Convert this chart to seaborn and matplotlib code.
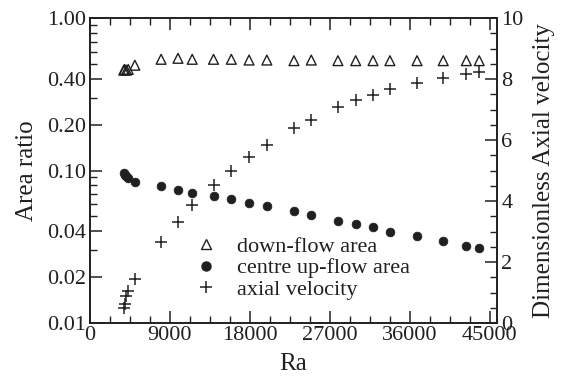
import matplotlib
matplotlib.use("Agg")
import matplotlib.pyplot as plt
from matplotlib.ticker import FixedLocator, FormatStrFormatter, MultipleLocator, LogLocator, NullFormatter
from matplotlib.lines import Line2D
import seaborn as sns
import pandas as pd

ra = [3800, 3900, 4100, 4300, 5050, 8000, 9900, 11500, 13900, 15900, 17900,
      19900, 22950, 24900, 27900, 29900, 31850, 33750, 36800, 39750, 42350, 43800]
down_flow_area = [0.455, 0.46, 0.455, 0.46, 0.49, 0.536, 0.544, 0.536, 0.536, 0.536,
                  0.530, 0.530, 0.525, 0.530, 0.525, 0.525, 0.525, 0.525, 0.525,
                  0.525, 0.525, 0.525]
centre_upflow_area = [0.097, 0.094, 0.092, 0.089, 0.0845, 0.0795, 0.0745, 0.0715,
                      0.0683, 0.0647, 0.0615, 0.0585, 0.0542, 0.0511, 0.0469, 0.0446,
                      0.0424, 0.0393, 0.0374, 0.0345, 0.0320, 0.0309]
axial_velocity = [0.50, 0.63, 0.88, 1.05, 1.43, 2.66, 3.32, 3.88, 4.52, 4.99, 5.43,
                  5.84, 6.38, 6.67, 7.09, 7.31, 7.48, 7.66, 7.88, 8.02, 8.16, 8.24]

left_ticks = [0.01, 0.02, 0.04, 0.10, 0.20, 0.40, 1.00]
x_ticks = [0, 9000, 18000, 27000, 36000, 45000]
right_ticks = [0, 2, 4, 6, 8, 10]
labels = ["down-flow area", "centre up-flow area", "axial velocity"]

df = pd.DataFrame({"Ra": ra, "down": down_flow_area, "centre": centre_upflow_area,
                   "vel": axial_velocity})

sns.set_style("ticks")
ink = "#231f20"
plt.rcParams["font.family"] = ["Liberation Serif", "DejaVu Serif"]
plt.rcParams["mathtext.fontset"] = "stix"
for k in ["text.color", "axes.labelcolor", "xtick.color", "ytick.color", "axes.edgecolor"]:
    plt.rcParams[k] = ink

fig = plt.figure(figsize=(5.64, 3.77), dpi=100)
ax = fig.add_axes([90/564, 1 - 323/377, 407/564, 305/377])
ax2 = ax.twinx()

sns.scatterplot(data=df, x="Ra", y="down", ax=ax, marker="^", s=50,
                facecolor="none", edgecolor=ink, linewidth=1.0, zorder=3)
sns.scatterplot(data=df, x="Ra", y="centre", ax=ax, marker="o", s=40,
                color=ink, edgecolor=ink, linewidth=0.5, zorder=3)
sns.scatterplot(data=df, x="Ra", y="vel", ax=ax2, marker="+", s=70,
                color=ink, linewidth=1.1, zorder=3)

ax.set_yscale("log")
ax.set_ylim(0.01, 1.0)
ax.set_xlim(0, 45800)
ax2.set_ylim(0, 10)

ax.yaxis.set_major_locator(FixedLocator(left_ticks))
ax.yaxis.set_major_formatter(FormatStrFormatter("%.2f"))
ax.yaxis.set_minor_locator(LogLocator(base=10, subs=[2, 3, 4, 5, 6, 7, 8, 9]))
ax.yaxis.set_minor_formatter(NullFormatter())
ax.xaxis.set_major_locator(FixedLocator(x_ticks))
ax.xaxis.set_minor_locator(MultipleLocator(2250))
ax2.yaxis.set_major_locator(FixedLocator(right_ticks))
ax2.yaxis.set_minor_locator(MultipleLocator(0.5))

for a in (ax, ax2):
    for sp in a.spines.values():
        sp.set_linewidth(1.2)
        sp.set_color(ink)
ax.tick_params(axis="x", which="both", direction="in", top=True, bottom=True,
               labelsize=16, pad=2)
ax.tick_params(axis="y", which="both", direction="in", left=True, right=False,
               labelsize=16, pad=3)
ax2.tick_params(axis="y", which="both", direction="in", right=True, left=False,
                labelsize=16, pad=3)
for a in (ax, ax2):
    a.tick_params(which="major", length=8.5, width=1.1)
    a.tick_params(which="minor", length=5, width=1.0)

ax.set_xlabel("Ra", fontsize=18, labelpad=6)
ax.set_ylabel("Area ratio", fontsize=18, labelpad=6)
ax2.set_ylabel("Dimensionless Axial velocity", fontsize=18, labelpad=7)

handles = [
    Line2D([], [], ls="none", marker="^", ms=7, mfc="none", mec=ink, mew=1.0),
    Line2D([], [], ls="none", marker="o", ms=6.5, mfc=ink, mec=ink),
    Line2D([], [], ls="none", marker="+", ms=8.5, mec=ink, mew=1.1),
]
ax2.legend(handles, labels, loc="upper left", bbox_to_anchor=(0.257, 0.285),
           frameon=False, fontsize=16, handlelength=1.0, handletextpad=0.9,
           labelspacing=0.05, borderpad=0, borderaxespad=0)

fig.savefig("out.png", dpi=100)
